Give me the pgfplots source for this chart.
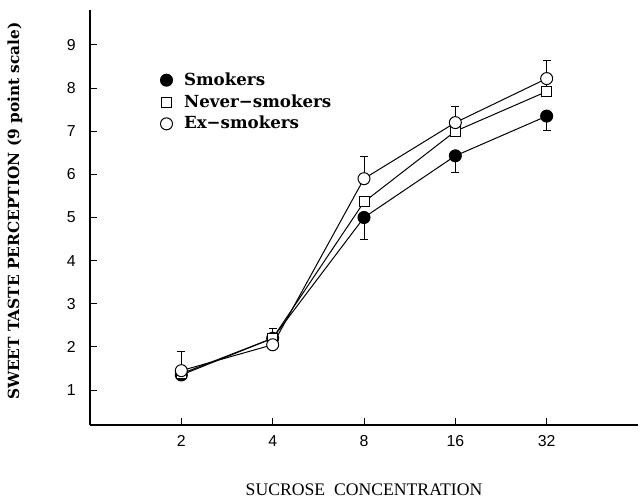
\documentclass[border=0pt]{standalone}
\usepackage{fontspec}
\setmainfont{Liberation Sans}
\newfontfamily\slabfont{DejaVu Serif}
\newfontfamily\capfont{Liberation Serif}
\usepackage{pgfplots}
\usepackage{pgfplotstable}
\pgfplotsset{compat=1.18}
\usetikzlibrary{calc}

% x = log2(sucrose concentration); em = minus error, ep = plus error
\pgfplotstableread{
x  y     em
1  1.35  0.10
2  2.20  0.10
3  5.00  0.50
4  6.43  0.38
5  7.35  0.34
}\smokers
\pgfplotstableread{
x  y     ep
1  1.38  0.00
2  2.20  0.00
3  5.36  0.00
4  7.00  0.30
5  7.92  0.20
}\never
\pgfplotstableread{
x  y     ep
1  1.45  0.45
2  2.05  0.37
3  5.90  0.52
4  7.20  0.38
5  8.22  0.41
}\exsmokers

\begin{document}
\begin{tikzpicture}
\begin{axis}[
    name=ax,
    scale only axis,
    width=328.8pt, height=249pt,
    xmin=0, xmax=6,
    ymin=0.19, ymax=9.81,
    axis x line*=bottom,
    axis y line*=left,
    axis line style={line width=0.7pt},
    tick align=inside,
    major tick length=4pt,
    tick style={line width=0.6pt, black},
    xtick={1,2,3,4,5},
    xticklabels={2,4,8,16,32},
    ytick={1,...,9},
    /pgf/number format/assume math mode=true,
    tick label style={font=\fontsize{9.5}{11}\selectfont},
    xticklabel style={yshift=-3pt},
    yticklabel style={xshift=-5pt},
    xlabel={\capfont\fontsize{10.6}{12}\selectfont SUCROSE\ \ CONCENTRATION},
    xlabel style={at={(0.5,0)}, anchor=center, yshift=-39pt},
    ylabel={\slabfont\bfseries\fontsize{9.2}{11}\selectfont SWEET TASTE PERCEPTION (9 point scale)},
    ylabel style={at={(0,0.515)}, anchor=center, yshift=45pt},
    legend style={draw=none, fill=none, at={(0.125,0.862)}, anchor=north west,
        font=\slabfont\bfseries\fontsize{10}{11}\selectfont, row sep=0pt,
        inner sep=1pt},
    legend cell align=left,
    legend image code/.code={\path[draw=none, fill=none] (0cm,0cm) -- (0.42cm,0cm);
        \draw[#1, only marks] plot coordinates {(0.12cm,0cm)};},
    clip=false,
]
\addplot[black, line width=0.6pt, mark=*, mark size=3.6pt, mark options={fill=black, solid},
    error bars/.cd, y dir=minus, y explicit,
    error mark options={rotate=90, mark size=2.4pt, line width=0.6pt},
    error bar style={line width=0.6pt}]
    table[x=x, y=y, y error minus=em] {\smokers};
\addlegendentry{Smokers}
\addplot[black, line width=0.6pt, mark=square*, mark size=3pt, mark options={fill=white, solid},
    error bars/.cd, y dir=plus, y explicit,
    error mark options={rotate=90, mark size=2.4pt, line width=0.6pt},
    error bar style={line width=0.6pt}]
    table[x=x, y=y, y error plus=ep] {\never};
\addlegendentry{Never−smokers}
\addplot[black, line width=0.6pt, mark=*, mark size=3.6pt, mark options={fill=white, solid},
    error bars/.cd, y dir=plus, y explicit,
    error mark options={rotate=90, mark size=2.4pt, line width=0.6pt},
    error bar style={line width=0.6pt}]
    table[x=x, y=y, y error plus=ep] {\exsmokers};
\addlegendentry{Ex−smokers}
\end{axis}
\pgfresetboundingbox
\path ($(ax.south west)+(-54pt,-44.4pt)$) rectangle ($(ax.north east)+(1.2pt,6pt)$);
\end{tikzpicture}
\end{document}
